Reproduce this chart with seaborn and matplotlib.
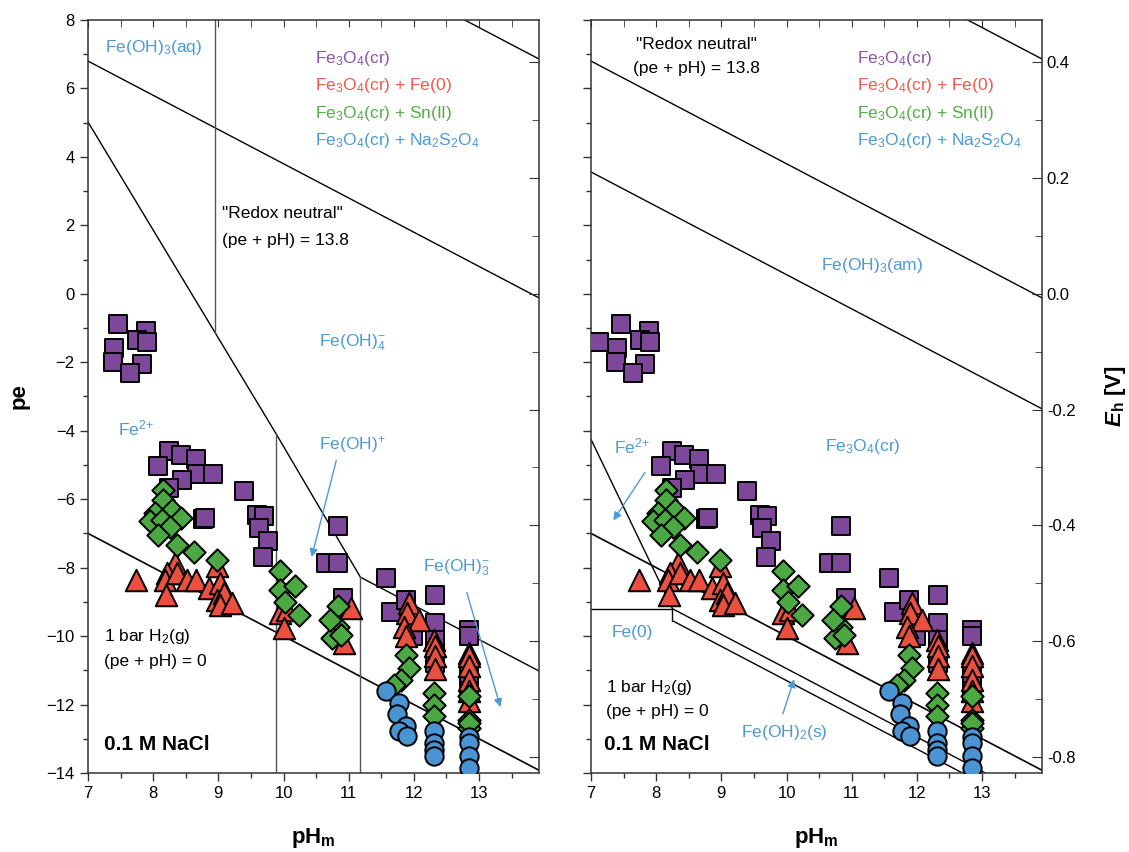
import numpy as np
import pandas as pd
import matplotlib
matplotlib.use("Agg")
import matplotlib.pyplot as plt
from matplotlib.ticker import MultipleLocator
import seaborn as sns

sns.set_style("ticks")
plt.rcParams['font.family'] = ['Liberation Sans', 'DejaVu Sans']
plt.rcParams['mathtext.fontset'] = 'custom'
plt.rcParams['mathtext.rm'] = 'Liberation Sans'
plt.rcParams['mathtext.it'] = 'Liberation Sans:italic'
plt.rcParams['mathtext.bf'] = 'Liberation Sans:bold'
plt.rcParams['mathtext.bfit'] = 'Liberation Sans:bold:italic'
plt.rcParams['mathtext.default'] = 'regular'
plt.rcParams['text.color'] = 'black'
plt.rcParams['axes.labelcolor'] = 'black'
plt.rcParams['xtick.color'] = 'black'
plt.rcParams['ytick.color'] = 'black'

# ---------------- data ----------------
sq_pH = [7.46, 7.89, 7.75, 7.90, 7.40, 7.38, 7.83, 7.64,
         8.24, 8.42, 8.07, 8.66, 8.68, 8.92, 8.44, 8.25, 9.40, 8.77, 8.80,
         9.60, 9.70, 9.62, 9.76, 9.69,
         10.83, 10.65, 10.84, 10.92, 11.57, 11.65, 11.88, 11.98,
         12.32, 12.32, 12.32, 12.32, 12.85, 12.85, 12.85, 12.85, 12.85]
sq_pe = [-0.89, -1.09, -1.35, -1.42, -1.59, -1.98, -2.06, -2.30,
         -4.59, -4.71, -5.03, -4.83, -5.26, -5.26, -5.43, -5.68, -5.75, -6.57, -6.55,
         -6.46, -6.48, -6.85, -7.23, -7.69,
         -6.77, -7.87, -7.85, -8.89, -8.30, -9.30, -8.94, -10.01,
         -8.79, -9.62, -10.10, -10.79, -9.81, -10.01, -11.00, -11.27, -11.60]
sq_extra_pH = [7.13]   # extra point visible only in the right panel
sq_extra_pe = [-1.40]

tri_pH = [7.74, 8.34, 8.21, 8.18, 8.36, 8.52, 8.65, 8.20, 8.85, 8.98, 9.03, 8.98, 9.08, 9.03, 9.21,
          9.95, 10.06, 10.00, 10.93, 11.03, 11.93, 11.90, 12.08, 11.85, 11.88,
          12.31, 12.32, 12.32, 12.32, 12.85, 12.85, 12.85, 12.85, 12.85, 12.85]
tri_pe = [-8.35, -7.87, -8.16, -8.35, -8.16, -8.35, -8.35, -8.79, -8.60, -7.96, -8.45, -8.94, -8.74, -9.08, -9.03,
          -9.33, -9.23, -9.76, -10.20, -9.18, -9.03, -9.33, -9.52, -9.72, -10.01,
          -10.10, -10.30, -10.59, -10.95, -10.49, -10.59, -10.88, -11.27, -11.60, -11.90]

dia_pH = [8.15, 8.15, 8.29, 8.03, 7.95, 8.13, 8.42, 8.26, 8.08, 8.36, 8.62, 8.98,
          9.95, 9.95, 10.18, 10.03, 10.23, 10.83, 10.83, 10.75, 10.88, 10.72,
          11.88, 11.93, 11.80, 11.70, 12.31, 12.31, 12.31, 12.85, 12.85, 12.85, 12.85]
dia_pe = [-5.73, -6.02, -6.31, -6.41, -6.65, -6.60, -6.55, -6.80, -7.04, -7.33, -7.53, -7.77,
          -8.11, -8.65, -8.55, -8.99, -9.38, -9.13, -9.72, -10.06, -9.96, -9.52,
          -10.54, -10.93, -11.27, -11.42, -11.66, -12.00, -12.34, -11.76, -12.44, -12.68, -12.55]

cir_pH = [11.57, 11.77, 11.74, 11.88, 11.77, 11.90, 12.31, 12.31, 12.31, 12.31, 12.85, 12.85, 12.85, 12.85]
cir_pe = [-11.61, -11.95, -12.29, -12.64, -12.78, -12.93, -12.78, -13.12, -13.32, -13.51, -12.95, -13.12, -13.51, -13.85]

# boundary lines (pH, pe)
redox_pH = [7.0, 14.0];  redox_pe = [6.8, -0.2]          # pe + pH = 13.8
o2_pH = [12.0, 14.0];    o2_pe = [8.78, 6.78]            # O2 line
h2_pH = [7.0, 14.0];     h2_pe = [-7.0, -14.0]           # pe + pH = 0
# left panel (aqueous)
fe2_pH = [7.0, 9.877, 11.18, 14.0]; fe2_pe = [5.02, -4.06, -8.28, -11.10]
v1_pH = [8.95, 8.95];   v1_pe = [8.0, -1.14]
v2_pH = [9.877, 9.877]; v2_pe = [-4.06, -14.0]
v3_pH = [11.18, 11.18]; v3_pe = [-8.28, -14.0]
# right panel (solids)
am_pH = [7.0, 14.0];     am_pe = [3.56, -3.44]
mag_pH = [7.0, 8.25];    mag_pe = [-4.25, -9.20]
fe0_pH = [7.0, 8.25, 8.25]; fe0_pe = [-9.20, -9.20, -9.55]
oh2a_pH = [8.25, 14.0];  oh2a_pe = [-9.20, -14.95]
oh2b_pH = [8.25, 14.0];  oh2b_pe = [-9.55, -15.30]

EH_FACTOR = 0.05916

PURPLE = '#7d4899'; RED = '#e9503f'; GREEN = '#4ca843'; BLUE = '#4a94d4'
T_PURPLE = '#8a55ab'; T_RED = '#ef5a4b'; T_GREEN = '#55ad48'; T_BLUE = '#4c9ad8'

legend_lines = [r'Fe$_3$O$_4$(cr)', r'Fe$_3$O$_4$(cr) + Fe(0)',
                r'Fe$_3$O$_4$(cr) + Sn(II)', r'Fe$_3$O$_4$(cr) + Na$_2$S$_2$O$_4$']
legend_colors = [T_PURPLE, T_RED, T_GREEN, T_BLUE]

fig = plt.figure(figsize=(11.29, 8.52), dpi=100)
W, H = 1129, 852
ax1 = fig.add_axes([88 / W, 79 / H, 451 / W, 753 / H])
ax2 = fig.add_axes([591 / W, 79 / H, 451 / W, 753 / H])


def draw_points(ax, right):
    spx = sq_pH + (sq_extra_pH if right else [])
    spe = sq_pe + (sq_extra_pe if right else [])
    sns.scatterplot(x=spx, y=spe, marker='s', s=165, color=PURPLE, edgecolor='black',
                    linewidth=1.4, ax=ax, legend=False, zorder=3)
    sns.scatterplot(x=tri_pH, y=tri_pe, marker='^', s=240, color=RED, edgecolor='black',
                    linewidth=1.4, ax=ax, legend=False, zorder=4)
    sns.scatterplot(x=dia_pH, y=dia_pe, marker='D', s=130, color=GREEN, edgecolor='black',
                    linewidth=1.4, ax=ax, legend=False, zorder=5)
    sns.scatterplot(x=cir_pH, y=cir_pe, marker='o', s=175, color=BLUE, edgecolor='black',
                    linewidth=1.4, ax=ax, legend=False, zorder=6)


def style_axes(ax, right):
    ax.set_xlim(7, 13.92)
    ax.set_ylim(-14, 8)
    ax.xaxis.set_major_locator(MultipleLocator(1))
    ax.xaxis.set_minor_locator(MultipleLocator(0.5))
    ax.yaxis.set_major_locator(MultipleLocator(2))
    ax.yaxis.set_minor_locator(MultipleLocator(1))
    ax.tick_params(which='major', direction='out', length=6, width=1, labelsize=12, color='#333333')
    ax.tick_params(which='minor', direction='out', length=3.5, width=1, color='#333333')
    for sp in ax.spines.values():
        sp.set_color('#333333')
        sp.set_linewidth(1.1)
        sp.set_visible(True)
    if right:
        ax.tick_params(axis='y', labelleft=False)
        ax.set_ylabel('')
    else:
        ax.set_ylabel('pe', fontsize=16, fontweight='bold', labelpad=12)
    ax.set_xlabel(r'$\mathbf{pH_m}$', fontsize=16, fontweight='bold', labelpad=18)
    # top ticks (inward)
    sec = ax.secondary_xaxis('top')
    sec.xaxis.set_major_locator(MultipleLocator(1))
    sec.xaxis.set_minor_locator(MultipleLocator(0.5))
    sec.tick_params(which='major', direction='in', length=5, labeltop=False, color='#333333')
    sec.tick_params(which='minor', direction='in', length=5, color='#333333')
    sec.spines['top'].set_visible(False)
    # Eh axis
    axr = ax.twinx()
    axr.set_ylim(-14 * EH_FACTOR, 8 * EH_FACTOR)
    axr.yaxis.set_major_locator(MultipleLocator(0.2))
    axr.yaxis.set_minor_locator(MultipleLocator(0.1))
    axr.tick_params(which='major', direction='in', length=7, labelsize=12, color='#333333')
    axr.tick_params(which='minor', direction='in', length=5, color='#333333')
    axr.yaxis.set_major_formatter(matplotlib.ticker.FormatStrFormatter('%.1f'))
    for sp in axr.spines.values():
        sp.set_visible(False)
    if not right:
        axr.tick_params(axis='y', labelright=False)


lk = dict(color='black', lw=1.0, zorder=2)
gk = dict(color='#555555', lw=1.0, zorder=2)

# ---- left panel ----
ax = ax1
ax.plot(redox_pH, redox_pe, **lk)
ax.plot(o2_pH, o2_pe, **lk)
ax.plot(h2_pH, h2_pe, color='black', lw=1.2, zorder=2)
ax.plot(fe2_pH, fe2_pe, **lk)
ax.plot(v1_pH, v1_pe, **gk)
ax.plot(v2_pH, v2_pe, **gk)
ax.plot(v3_pH, v3_pe, **gk)
draw_points(ax, False)
style_axes(ax, False)

fs = 12.5
ax.text(7.26, 7.2, r'Fe(OH)$_3$(aq)', color=T_BLUE, fontsize=fs, va='center')
for i, (t, c) in enumerate(zip(legend_lines, legend_colors)):
    ax.text(10.49, 6.88 - 0.805 * i, t, color=c, fontsize=fs, va='center')
ax.text(9.05, 2.35, '"Redox neutral"', fontsize=fs, va='center')
ax.text(9.05, 1.57, '(pe + pH) = 13.8', fontsize=fs, va='center')
ax.text(10.54, -1.43, r'Fe(OH)$^{-}_{4}$', color=T_BLUE, fontsize=fs, va='center')
ax.text(7.46, -3.92, r'Fe$^{2{+}}$', color=T_BLUE, fontsize=fs, va='center')
ax.text(10.54, -4.41, r'Fe(OH)$^{+}$', color=T_BLUE, fontsize=fs, va='center')
ax.annotate('', xy=(10.42, -7.77), xytext=(10.82, -4.79),
            arrowprops=dict(arrowstyle='-|>', color=T_BLUE, lw=1.0, mutation_scale=12))
ax.text(12.14, -8.0, r'Fe(OH)$^{-}_{3}$', color=T_BLUE, fontsize=fs, va='center')
ax.annotate('', xy=(13.34, -12.15), xytext=(12.8, -8.65),
            arrowprops=dict(arrowstyle='-|>', color=T_BLUE, lw=1.0, mutation_scale=12))
ax.text(7.25, -10.02, r'1 bar H$_2$(g)', fontsize=fs, va='center')
ax.text(7.25, -10.75, '(pe + pH) = 0', fontsize=fs, va='center')
ax.text(7.25, -13.17, '0.1 M NaCl', fontsize=15, fontweight='bold', va='center')

# ---- right panel ----
ax = ax2
ax.plot(redox_pH, redox_pe, **lk)
ax.plot(o2_pH, o2_pe, **lk)
ax.plot(h2_pH, h2_pe, color='black', lw=1.2, zorder=2)
ax.plot(am_pH, am_pe, **lk)
ax.plot(mag_pH, mag_pe, **lk)
ax.plot(fe0_pH, fe0_pe, **lk)
ax.plot(oh2a_pH, oh2a_pe, **lk)
ax.plot(oh2b_pH, oh2b_pe, **lk)
draw_points(ax, True)
style_axes(ax, True)

ax.text(8.62, 7.29, '"Redox neutral"', fontsize=fs, va='center', ha='center')
ax.text(8.62, 6.59, '(pe + pH) = 13.8', fontsize=fs, va='center', ha='center')
for i, (t, c) in enumerate(zip(legend_lines, legend_colors)):
    ax.text(11.08, 6.88 - 0.805 * i, t, color=c, fontsize=fs, va='center')
ax.text(10.53, 0.84, r'Fe(OH)$_3$(am)', color=T_BLUE, fontsize=fs, va='center')
ax.text(7.35, -4.45, r'Fe$^{2{+}}$', color=T_BLUE, fontsize=fs, va='center')
ax.annotate('', xy=(7.32, -6.69), xytext=(7.85, -5.15),
            arrowprops=dict(arrowstyle='-|>', color=T_BLUE, lw=1.0, mutation_scale=12))
ax.text(10.59, -4.45, r'Fe$_3$O$_4$(cr)', color=T_BLUE, fontsize=fs, va='center')
ax.text(7.32, -9.9, 'Fe(0)', color=T_BLUE, fontsize=fs, va='center')
ax.text(7.23, -11.5, r'1 bar H$_2$(g)', fontsize=fs, va='center')
ax.text(7.23, -12.2, '(pe + pH) = 0', fontsize=fs, va='center')
ax.text(9.3, -12.83, r'Fe(OH)$_2$(s)', color=T_BLUE, fontsize=fs, va='center')
ax.annotate('', xy=(10.13, -11.18), xytext=(9.93, -12.35),
            arrowprops=dict(arrowstyle='-|>', color=T_BLUE, lw=1.0, mutation_scale=12))
ax.text(7.2, -13.17, '0.1 M NaCl', fontsize=15, fontweight='bold', va='center')

# right-hand Eh axis title
fig.text(1116 / W, 1 - 396 / H, r'$\mathbfit{E}_\mathbf{h}$ [V]', fontsize=16, fontweight='bold',
         rotation=90, ha='center', va='center')

fig.savefig('out.png', dpi=100)
